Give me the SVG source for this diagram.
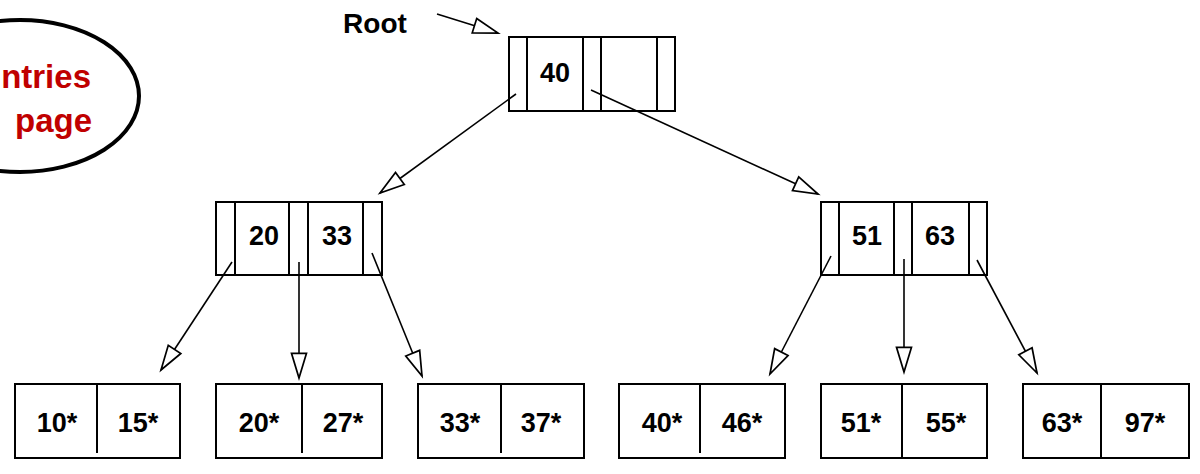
<svg xmlns="http://www.w3.org/2000/svg" width="1200" height="474" viewBox="0 0 1200 474">
<style>
.box{fill:#fff;stroke:#000;stroke-width:2}
.div{stroke:#000;stroke-width:2;fill:none}
.t{font-family:"Liberation Sans",Arial,sans-serif;font-weight:bold;font-size:27px;fill:#000;text-anchor:middle}
.red{font-family:"Liberation Sans",Arial,sans-serif;font-weight:bold;font-size:33px;fill:#c00000;text-anchor:end}
.c{stroke:#000;stroke-width:1.6;fill:none;marker-end:url(#ah)}
</style>
<defs>
<marker id="ah" markerUnits="userSpaceOnUse" markerWidth="30" markerHeight="20" viewBox="-2 -9 28 18" refX="23" refY="0" orient="auto">
<path d="M0,-7 L23,0 L0,7 Z" fill="#fff" stroke="#000" stroke-width="1.6"/>
</marker>
</defs>
<rect width="1200" height="474" fill="#fff"/>
<g id="note">
<ellipse cx="20" cy="96" rx="119" ry="76" fill="#fff" stroke="#000" stroke-width="4"/>
<text class="red" x="91" y="88">ntries</text>
<text class="red" x="92" y="132">page</text>
</g>
<g id="rootlabel"><text class="t" x="375" y="33" font-size="28" style="font-size:28px">Root</text></g>
<g id="n40">
<rect class="box" x="509" y="37" width="166" height="74"/>
<path class="div" d="M527,37V111M583,37V111M601,37V111M657,37V111"/>
<text class="t" x="555" y="82">40</text>
</g>
<g id="n20_33">
<rect class="box" x="216" y="202" width="166" height="73"/>
<path class="div" d="M235,202V275M289,202V275M308,202V275M363,202V275"/>
<text class="t" x="264" y="245">20</text>
<text class="t" x="337" y="245">33</text>
</g>
<g id="n51_63">
<rect class="box" x="821" y="202" width="166" height="73"/>
<path class="div" d="M839,202V275M894,202V275M912,202V275M969,202V275"/>
<text class="t" x="867" y="245">51</text>
<text class="t" x="940" y="245">63</text>
</g>
<g id="leaf1">
<rect class="box" x="15" y="384" width="165" height="74"/>
<path class="div" d="M97,384V453"/>
<text class="t" x="57" y="432">10*</text><text class="t" x="138" y="432">15*</text>
</g>
<g id="leaf2">
<rect class="box" x="216" y="384" width="166" height="74"/>
<path class="div" d="M302,384V453"/>
<text class="t" x="259" y="432">20*</text><text class="t" x="343" y="432">27*</text>
</g>
<g id="leaf3">
<rect class="box" x="418" y="384" width="166" height="74"/>
<path class="div" d="M501,384V453"/>
<text class="t" x="460" y="432">33*</text><text class="t" x="541" y="432">37*</text>
</g>
<g id="leaf4">
<rect class="box" x="619" y="384" width="166" height="74"/>
<path class="div" d="M700,384V453"/>
<text class="t" x="662" y="432">40*</text><text class="t" x="742" y="432">46*</text>
</g>
<g id="leaf5">
<rect class="box" x="821" y="384" width="166" height="74"/>
<path class="div" d="M902,384V458"/>
<text class="t" x="861" y="432">51*</text><text class="t" x="946" y="432">55*</text>
</g>
<g id="leaf6">
<rect class="box" x="1023" y="384" width="166" height="74"/>
<path class="div" d="M1101,384V458"/>
<text class="t" x="1062" y="432">63*</text><text class="t" x="1145" y="432">97*</text>
</g>
<g id="connectors">
<line class="c" x1="437" y1="14" x2="498" y2="33"/>
<line class="c" x1="516" y1="94" x2="380" y2="193"/>
<line class="c" x1="591" y1="90" x2="818" y2="194"/>
<line class="c" x1="232" y1="262" x2="161" y2="370"/>
<line class="c" x1="299" y1="262" x2="299" y2="378"/>
<line class="c" x1="372" y1="253" x2="422" y2="376"/>
<line class="c" x1="831" y1="256" x2="770" y2="374"/>
<line class="c" x1="904" y1="259" x2="904" y2="372"/>
<line class="c" x1="977" y1="260" x2="1037" y2="373"/>
</g>
</svg>
